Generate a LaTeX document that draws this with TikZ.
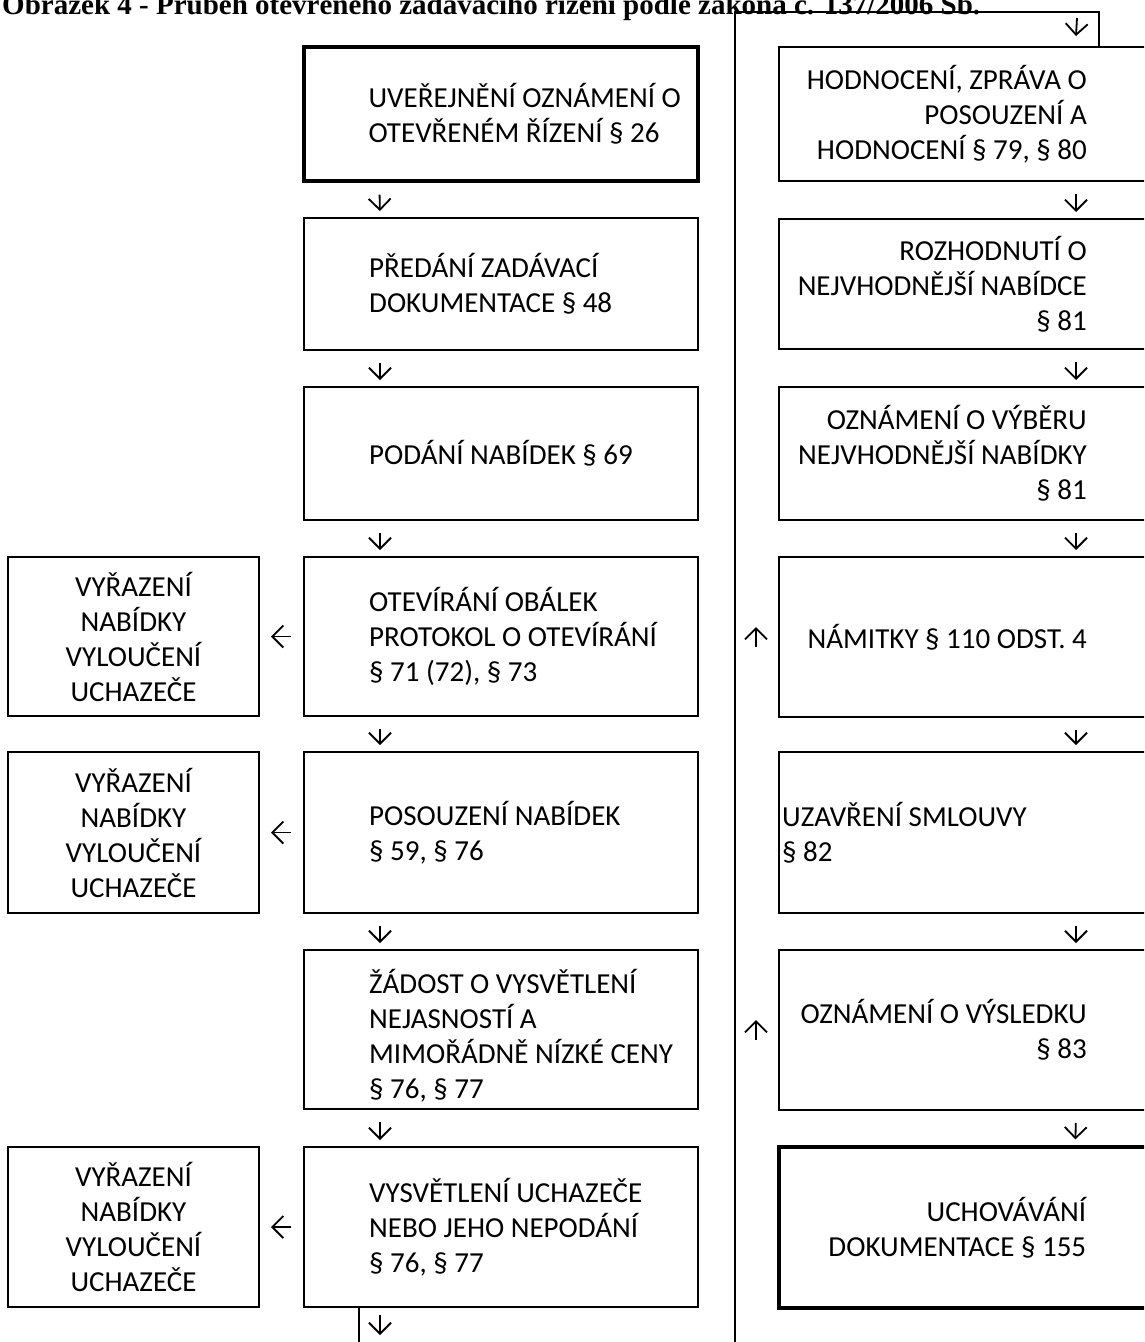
\documentclass[tikz,border=0pt]{standalone}
\usepackage{fontspec}
\setmainfont{Carlito}
\newfontfamily\titlefont{Liberation Serif}
\usetikzlibrary{arrows.meta}

\tikzset{
  box/.style={draw, line width=2pt, inner sep=0pt},
  mainbox/.style={box, minimum width=394pt},
  sidebox/.style={box, minimum width=251pt},
  rightbox/.style={box, minimum width=381pt},
  heavy/.style={line width=3.3pt},
  boxtext/.style={inner sep=0pt, font=\fontsize{29}{35}\selectfont},
  lefttext/.style={boxtext, anchor=west, align=left},
  righttext/.style={boxtext, anchor=east, align=right},
  midtext/.style={boxtext, align=center},
  flow/.style={-{Straight Barb[length=11pt,width=22pt,line width=1.8pt]}, line width=1.8pt},
  loopline/.style={line width=2pt}
}

\begin{document}
\begin{tikzpicture}[x=1pt, y=-1pt]
  \useasboundingbox (0,0) rectangle (1144,1342);
  \clip (0,0) rectangle (1144,1342);

  \node[anchor=base west, inner sep=0pt, font=\titlefont\bfseries\fontsize{29}{35}\selectfont] (title) at (2,14)
    {Obrázek 4 - Průběh otevřeného zadávacího řízení podle zákona č. 137/2006 Sb.};

  % Left column
  \node[mainbox, heavy, minimum height=134pt] (b1) at (501,114) {};
  \node[mainbox, minimum height=132pt] (b2) at (501,284) {};
  \node[mainbox, minimum height=133pt] (b3) at (501,453.5) {};
  \node[mainbox, minimum height=159pt] (b4) at (501,636.5) {};
  \node[mainbox, minimum height=161pt] (b5) at (501,832.5) {};
  \node[mainbox, minimum height=159pt] (b6) at (501,1029.5) {};
  \node[mainbox, minimum height=160pt] (b7) at (501,1227) {};
  \node[lefttext] (t1) at ([xshift=66pt]b1.west) {UVEŘEJNĚNÍ OZNÁMENÍ O\\OTEVŘENÉM ŘÍZENÍ § 26};
  \node[lefttext] (t2) at ([xshift=66pt]b2.west) {PŘEDÁNÍ ZADÁVACÍ\\DOKUMENTACE § 48};
  \node[lefttext] (t3) at ([xshift=66pt]b3.west) {PODÁNÍ NABÍDEK § 69};
  \node[lefttext] (t4) at ([xshift=66pt]b4.west) {OTEVÍRÁNÍ OBÁLEK\\PROTOKOL O OTEVÍRÁNÍ\\§ 71 (72), § 73};
  \node[lefttext] (t5) at ([xshift=66pt]b5.west) {POSOUZENÍ NABÍDEK\\§ 59, § 76};
  \node[lefttext] (t6) at ([xshift=66pt,yshift=-6pt]b6.west) {ŽÁDOST O VYSVĚTLENÍ\\NEJASNOSTÍ A\\MIMOŘÁDNĚ NÍZKÉ CENY\\§ 76, § 77};
  \node[lefttext] (t7) at ([xshift=66pt]b7.west) {VYSVĚTLENÍ UCHAZEČE\\NEBO JEHO NEPODÁNÍ\\§ 76, § 77};

  % Rejections
  \node[sidebox, minimum height=159pt] (s1) at (133.5,636.5) {};
  \node[sidebox, minimum height=161pt] (s2) at (133.5,832.5) {};
  \node[sidebox, minimum height=160pt] (s3) at (133.5,1227) {};
  \node[midtext] (u1) at (s1) {VYŘAZENÍ\\NABÍDKY\\VYLOUČENÍ\\UCHAZEČE};
  \node[midtext] (u2) at (s2) {VYŘAZENÍ\\NABÍDKY\\VYLOUČENÍ\\UCHAZEČE};
  \node[midtext] (u3) at (s3) {VYŘAZENÍ\\NABÍDKY\\VYLOUČENÍ\\UCHAZEČE};

  % Right column
  \node[rightbox, minimum height=134pt] (r1) at (969.5,114) {};
  \node[rightbox, minimum height=130pt] (r2) at (969.5,284) {};
  \node[rightbox, minimum height=133pt] (r3) at (969.5,453.5) {};
  \node[rightbox, minimum height=160pt] (r4) at (969.5,637) {};
  \node[rightbox, minimum height=161pt] (r5) at (969.5,832.5) {};
  \node[rightbox, minimum height=160pt] (r6) at (969.5,1030) {};
  \node[rightbox, heavy, minimum height=161pt] (r7) at (969.5,1227.5) {};
  \node[righttext] (q1) at ([xshift=309pt]r1.west) {HODNOCENÍ, ZPRÁVA O\\POSOUZENÍ A\\HODNOCENÍ § 79, § 80};
  \node[righttext] (q2) at ([xshift=309pt]r2.west) {ROZHODNUTÍ O\\NEJVHODNĚJŠÍ NABÍDCE\\§ 81};
  \node[righttext] (q3) at ([xshift=309pt]r3.west) {OZNÁMENÍ O VÝBĚRU\\NEJVHODNĚJŠÍ NABÍDKY\\§ 81};
  \node[righttext] (q4) at ([xshift=309pt]r4.west) {NÁMITKY § 110 ODST. 4};
  \node[lefttext] (q5) at ([xshift=4pt]r5.west) {UZAVŘENÍ SMLOUVY\\§ 82};
  \node[righttext] (q6) at ([xshift=309pt]r6.west) {OZNÁMENÍ O VÝSLEDKU\\§ 83};
  \node[righttext] (q7) at ([xshift=309pt]r7.west) {UCHOVÁVÁNÍ\\DOKUMENTACE § 155};

  % Down arrows
  \foreach \a/\b in {b1/b2,b2/b3,b3/b4,b4/b5,b5/b6,b6/b7}
    \draw[flow, shorten <=12pt, shorten >=6pt] ([xshift=77pt]\a.south west) -- ([xshift=77pt]\b.north west);
  \foreach \a/\b in {r1/r2,r2/r3,r3/r4,r4/r5,r5/r6,r6/r7}
    \draw[flow, shorten <=12pt, shorten >=6pt] ([xshift=298pt]\a.south west) -- ([xshift=298pt]\b.north west);
  \foreach \a/\b in {b4/s1,b5/s2,b7/s3}
    \draw[flow, shorten <=12pt, shorten >=11pt] (\a.west) -- (\b.east);
  \foreach \a in {r4,r6}
    \draw[flow] ([xshift=-22pt,yshift=-10pt]\a.west) -- ++(0,-20);

  % Loop back to the top
  \coordinate (looptop) at (1099,12);
  \coordinate (loopbot) at (735,1360);
  \draw[loopline] (loopbot) |- (looptop) -- (looptop |- r1.north);
  \draw[flow] ([xshift=-22pt,yshift=-6pt]looptop) -- ([xshift=298pt,yshift=10pt]r1.north west);
  \draw[loopline] ([xshift=56pt]b7.south west) -- ++(0,60);
  \draw[flow] ([xshift=77pt,yshift=-7pt]b7.south west) -- ++(0,20);
\end{tikzpicture}
\end{document}
